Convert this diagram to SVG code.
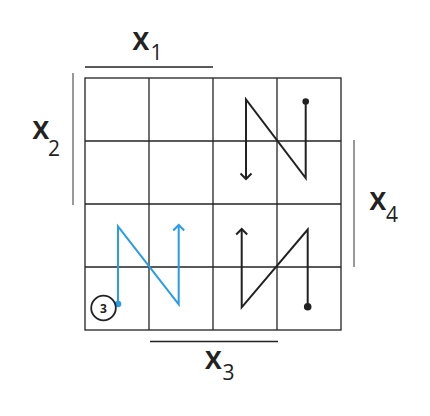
<svg xmlns="http://www.w3.org/2000/svg" width="430" height="416" viewBox="0 0 430 416">
<style>
.grid{stroke:#222;stroke-width:1.3;fill:none}
.bar{stroke:#222;stroke-width:1.3}
.barl{stroke:#555;stroke-width:1.2}
.lbl{font-family:"Open Sans","Noto Sans",sans-serif;font-weight:bold;font-size:25px;fill:#222}
.sub{font-family:"Open Sans","Noto Sans",sans-serif;font-size:21px;fill:#222}
.blk{stroke:#222;stroke-width:2;fill:none;stroke-linejoin:miter}
.blu{stroke:#2a9be6;stroke-width:2;fill:none}
</style>
<rect width="430" height="416" fill="#fff"/>
<g id="grid" class="grid">
<rect x="85" y="78" width="256" height="252"/>
<line x1="149" y1="78" x2="149" y2="330"/>
<line x1="213" y1="78" x2="213" y2="330"/>
<line x1="277" y1="78" x2="277" y2="330"/>
<line x1="85" y1="141" x2="341" y2="141"/>
<line x1="85" y1="204" x2="341" y2="204"/>
<line x1="85" y1="267" x2="341" y2="267"/>
</g>
<g id="x1">
<line class="bar" x1="85" y1="67" x2="213" y2="67"/>
<text x="132.5" y="49.5" class="lbl">X</text><text x="150.5" y="60" class="sub">1</text>
</g>
<g id="x2">
<line class="barl" x1="73" y1="73" x2="73" y2="205"/>
<text x="32.5" y="138.5" class="lbl">X</text><text x="48" y="156" class="sub">2</text>
</g>
<g id="x3">
<line class="bar" x1="150" y1="341.5" x2="278" y2="341.5"/>
<text x="205" y="368.5" class="lbl">X</text><text x="222.5" y="380" class="sub">3</text>
</g>
<g id="x4">
<line class="barl" x1="354" y1="140" x2="354" y2="267"/>
<text x="369.5" y="209.5" class="lbl">X</text><text x="386" y="222" class="sub">4</text>
</g>
<g id="connectors">
<g id="path-top">
<circle cx="305.7" cy="101.5" r="3.3" fill="#222"/>
<polyline class="blk" points="305.7,101.5 305.7,178 246,99.5 246,179" stroke-linejoin="miter" stroke-miterlimit="20"/>
<polyline class="blk" points="240.5,173.5 246,179 251.5,173.5"/>
</g>
<g id="path-bottom">
<circle cx="307.7" cy="306.7" r="3.8" fill="#222"/>
<polyline class="blk" points="307.7,306.7 307.7,229.5 241.7,307.3 241.7,229" stroke-miterlimit="20"/>
<polyline class="blk" points="236.2,234.5 241.7,229 247.2,234.5"/>
</g>
<g id="path-blue">
<circle cx="118" cy="304" r="3.3" fill="#2a9be6"/>
<polyline class="blu" points="118,304 118,226.5 178.7,304.3 178.7,225" stroke-miterlimit="20"/>
<polyline class="blu" points="173.2,230.5 178.7,225 184.2,230.5"/>
</g>
</g>
<g id="badge">
<circle cx="103.5" cy="308" r="12.3" fill="#fff" stroke="#222" stroke-width="1.8"/>
<text x="103.5" y="312.5" text-anchor="middle" font-family="Open Sans, Noto Sans, sans-serif" font-weight="bold" font-size="12" fill="#222">3</text>
</g>
</svg>
